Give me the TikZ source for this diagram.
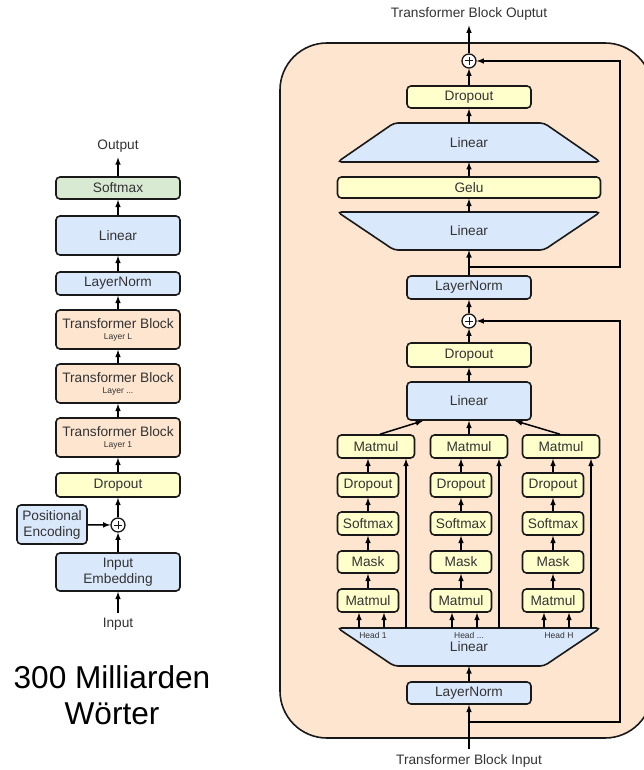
\documentclass[tikz,border=0pt]{standalone}
\usepackage{fontspec}
\setmainfont{Liberation Sans}
\usetikzlibrary{shapes,arrows,positioning,calc}
\definecolor{bluetf}{RGB}{218,232,252}
\definecolor{greentf}{RGB}{217,234,211}
\definecolor{yellowtf}{RGB}{255,255,204}
\definecolor{peachtf}{RGB}{253,229,207}
\definecolor{texttf}{RGB}{51,51,51}

\begin{document}
\begin{tikzpicture}[x=1pt, y=-1pt,
    blk/.style={draw=black!90, line width=1.6pt, rounded corners=4pt, inner sep=0pt, text=texttf, align=center, font=\fontsize{13.7}{16}\selectfont},
    bl/.style={blk, fill=bluetf, minimum width=124pt},
    ye/.style={blk, fill=yellowtf, minimum width=124pt, minimum height=23pt},
    tb/.style={blk, fill=peachtf, minimum width=124pt, minimum height=39pt},
    sm/.style={blk, fill=yellowtf, minimum width=61pt, minimum height=23pt},
    trapline/.style={draw=black!90, line width=1.6pt, fill=bluetf, rounded corners=4pt},
    traptext/.style={text=texttf, inner sep=0pt, minimum width=263pt, minimum height=38pt, font=\fontsize{13.7}{16}\selectfont},
    lbl/.style={text=texttf, inner sep=5pt, font=\fontsize{13.7}{16}\selectfont},
    tiny/.style={text=texttf, inner sep=0pt, font=\fontsize{8.5}{9}\selectfont},
    ar/.style={-latex, line width=1.5pt},
    plus/.style={circle, draw=black!90, line width=1.3pt, fill=white, minimum size=14pt, inner sep=0pt,
        path picture={\draw[line width=1pt] ([xshift=-4pt]path picture bounding box.center) -- ([xshift=4pt]path picture bounding box.center)
            ([yshift=-4pt]path picture bounding box.center) -- ([yshift=4pt]path picture bounding box.center);}}]
    \useasboundingbox (0,0) rectangle (644,770);

    % left: whole model
    \node[lbl] (out) at (118,146) {Output};
    \node[blk, fill=greentf, minimum width=124pt, minimum height=22pt] (smax) at (118,188) {Softmax};
    \node[bl, minimum height=39pt] (lin) at (118,235.5) {Linear};
    \node[bl, minimum height=23pt] (ln) at (118,283.5) {LayerNorm};
    \node[tb] (tbL) at (118,329.5) {Transformer Block\\[-5pt]{\fontsize{8.5}{9}\selectfont Layer L}};
    \node[tb] (tbM) at (118,383.5) {Transformer Block\\[-5pt]{\fontsize{8.5}{9}\selectfont Layer ...}};
    \node[tb] (tb1) at (118,437.5) {Transformer Block\\[-5pt]{\fontsize{8.5}{9}\selectfont Layer 1}};
    \node[ye, minimum height=24pt] (drop) at (118,485) {Dropout};
    \node[plus] (add) at (118,525) {};
    \node[bl, minimum width=70pt, minimum height=39pt] (pe) at (52,524.5) {Positional\\Encoding};
    \node[bl, minimum height=38pt] (emb) at (118,572) {Input\\Embedding};
    \node[lbl] (inp) at (118,624) {Input};
    \node[align=center, font=\fontsize{31.6}{36}\selectfont] (words) at (112,695) {300 Milliarden\\Wörter};

    \draw[ar] (smax) -- (out);
    \draw[ar] (lin) -- (smax);
    \draw[ar] (ln) -- (lin);
    \draw[ar] (tbL) -- (ln);
    \draw[ar] (tbM) -- (tbL);
    \draw[ar] (tb1) -- (tbM);
    \draw[ar] (drop) -- (tb1);
    \draw[ar] (add) -- (drop);
    \draw[ar] (emb) -- (add);
    \draw[ar] (pe) -- (add);
    \draw[ar] (inp) -- (emb);

    % right: one transformer block
    \draw[line width=1.6pt, draw=black!90, fill=peachtf, rounded corners=47pt] (280,43) rectangle (652,738);
    \draw[trapline] (337.5,162) -- (600.5,162) -- (544,123) -- (394,123) -- cycle;
    \draw[trapline] (337.5,212) -- (600.5,212) -- (544,250) -- (394,250) -- cycle;
    \draw[trapline] (337.5,628) -- (600.5,628) -- (544,666) -- (394,666) -- cycle;

    \node[lbl] (tbout) at (469,14) {Transformer Block Ouptut};
    \node[plus] (add2) at (469,61) {};
    \node[ye, minimum height=22pt] (drB) at (469,97) {Dropout};
    \node[traptext, minimum height=39pt] (ffup) at (469,142.5) {Linear};
    \node[blk, fill=yellowtf, minimum width=263pt, minimum height=21pt] (gelu) at (469,187.5) {Gelu};
    \node[traptext] (ffdn) at (469,231) {Linear};
    \coordinate (j2) at (469,267);
    \node[bl, minimum height=23pt] (ln2) at (469,287.5) {LayerNorm};
    \node[plus] (add1) at (469,321) {};
    \node[ye, minimum height=24pt] (drA) at (469,355) {Dropout};
    \node[bl, minimum height=38pt] (att) at (469,401) {Linear};

    \foreach \i/\x in {1/376,2/469,3/561} {
        \node[sm, minimum width=77pt] (mt\i) at (\x,446.5) {Matmul};
        \node[sm, minimum height=24pt] (dq\i) at (\x-8,485) {Dropout};
        \node[sm] (sx\i) at (\x-8,523.5) {Softmax};
        \node[sm, minimum height=22pt] (mk\i) at (\x-8,562) {Mask};
        \node[sm] (mm\i) at (\x-8,600.5) {Matmul};
    }
    \node[traptext] (hd) at (469,647) {Linear};
    \node[tiny] (h1) at (373,635) {Head 1};
    \node[tiny] (h2) at (469,635) {Head ...};
    \node[tiny] (h3) at (559,635) {Head H};
    \node[bl, minimum height=22pt] (ln1) at (469,693) {LayerNorm};
    \coordinate (j1) at (469,722);
    \node[lbl] (tbin) at (469,761) {Transformer Block Input};

    \draw[ar] (add2) -- (tbout);
    \draw[ar] (drB) -- (add2);
    \draw[ar] (ffup) -- (drB);
    \draw[ar] (gelu) -- (ffup);
    \draw[ar] (ffdn) -- (gelu);
    \draw[ar] (ln2) -- (ffdn);
    \draw[ar] (j2) -- ++(151,0) |- (add2);
    \draw[ar] (add1) -- (ln2);
    \draw[ar] (drA) -- (add1);
    \draw[ar] (att) -- (drA);
    \draw[ar] ([xshift=4pt]mt1.north) -- ([xshift=-46pt]att.south);
    \draw[ar] (mt2) -- (att);
    \draw[ar] ([xshift=-1pt]mt3.north) -- ([xshift=46pt]att.south);
    \foreach \i in {1,2,3} {
        \draw[ar] (dq\i) -- (dq\i |- mt\i.south);
        \draw[ar] (sx\i) -- (dq\i);
        \draw[ar] (mk\i) -- (sx\i);
        \draw[ar] (mm\i) -- (mk\i);
        \draw[ar] ([xshift=30pt]mt\i.south |- hd.north) -- ([xshift=30pt]mt\i.south);
        \draw[ar] ([xshift=-9pt]mm\i.south |- hd.north) -- ([xshift=-9pt]mm\i.south);
        \draw[ar] ([xshift=16pt]mm\i.south |- hd.north) -- ([xshift=16pt]mm\i.south);
    }
    \draw[ar] (ln1) -- (hd);
    \draw[ar] (tbin) -- (ln1);
    \draw[ar] (j1) -- ++(151,0) |- (add1);
\end{tikzpicture}
\end{document}
